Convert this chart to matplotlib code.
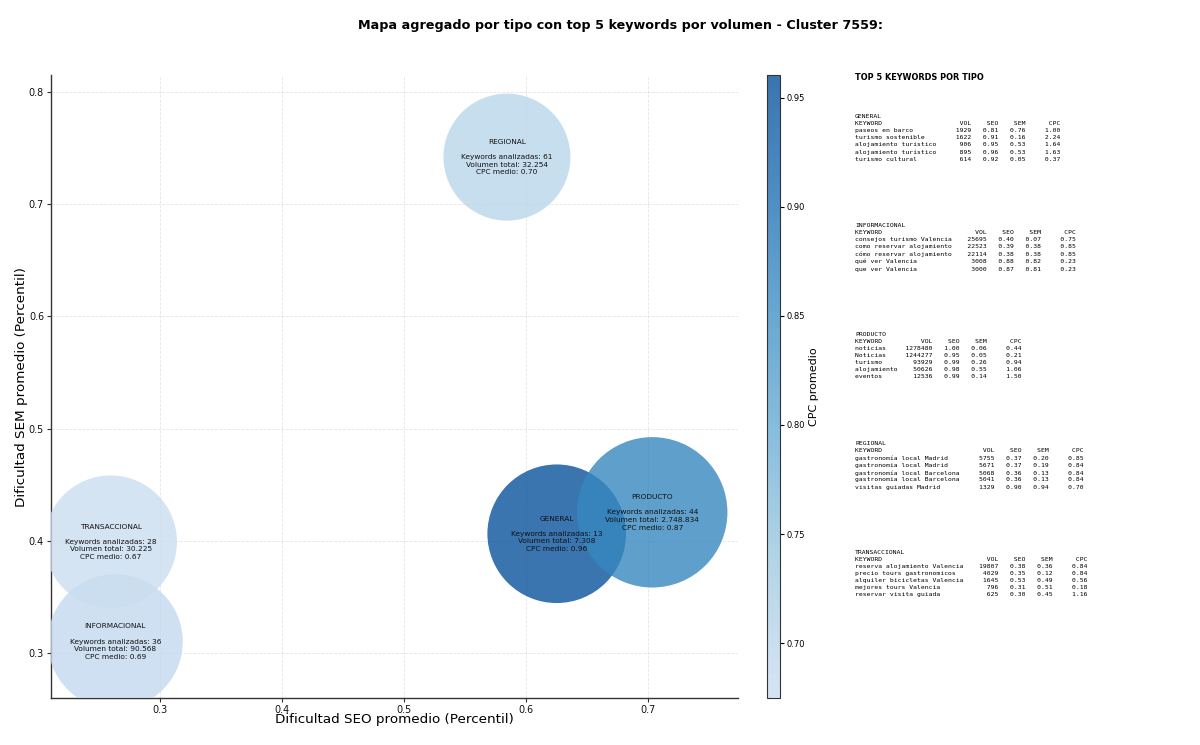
import matplotlib
matplotlib.use("Agg")
import matplotlib.pyplot as plt
from matplotlib.colors import LinearSegmentedColormap, Normalize
import numpy as np

# ---- data ----
tipos = ['GENERAL', 'INFORMACIONAL', 'PRODUCTO', 'REGIONAL', 'TRANSACCIONAL']
seo_mean = [0.6252, 0.2634, 0.7035, 0.5844, 0.2596]
sem_mean = [0.4063, 0.3101, 0.4254, 0.7420, 0.3992]
cpc_mean = [0.9605, 0.69, 0.87, 0.70, 0.6748]
n_keywords = [13, 36, 44, 61, 28]
vol_total = [7308, 90568, 2748834, 32254, 30225]
bubble_area = [9960, 9448, 11725, 8360, 9116]

top_kw = {
    'GENERAL': ['paseos en barco', 'turismo sostenible', 'alojamiento turistico',
                'alojamiento turístico', 'turismo cultural'],
    'INFORMACIONAL': ['consejos turismo Valencia', 'como reservar alojamiento',
                      'cómo reservar alojamiento', 'qué ver Valencia', 'que ver Valencia'],
    'PRODUCTO': ['noticias', 'Noticias', 'turismo', 'alojamiento', 'eventos'],
    'REGIONAL': ['gastronomía local Madrid', 'gastronomia local Madrid',
                 'gastronomía local Barcelona', 'gastronomia local Barcelona',
                 'visitas guiadas Madrid'],
    'TRANSACCIONAL': ['reserva alojamiento Valencia', 'precio tours gastronomicos',
                      'alquiler bicicletas Valencia', 'mejores tours Valencia',
                      'reservar visita guiada'],
}
top_vol = {
    'GENERAL': [1929, 1622, 906, 895, 614],
    'INFORMACIONAL': [25695, 22523, 22114, 3008, 3000],
    'PRODUCTO': [1278480, 1244277, 93929, 50626, 12536],
    'REGIONAL': [5755, 5671, 5068, 5041, 1329],
    'TRANSACCIONAL': [19807, 4029, 1645, 796, 625],
}
top_seo = {
    'GENERAL': [0.81, 0.91, 0.95, 0.96, 0.92],
    'INFORMACIONAL': [0.40, 0.39, 0.38, 0.88, 0.87],
    'PRODUCTO': [1.00, 0.95, 0.99, 0.98, 0.99],
    'REGIONAL': [0.37, 0.37, 0.36, 0.36, 0.90],
    'TRANSACCIONAL': [0.38, 0.35, 0.53, 0.31, 0.30],
}
top_sem = {
    'GENERAL': [0.76, 0.16, 0.53, 0.53, 0.05],
    'INFORMACIONAL': [0.07, 0.38, 0.38, 0.82, 0.81],
    'PRODUCTO': [0.06, 0.05, 0.26, 0.55, 0.14],
    'REGIONAL': [0.20, 0.19, 0.13, 0.13, 0.94],
    'TRANSACCIONAL': [0.36, 0.12, 0.49, 0.51, 0.45],
}
top_cpc = {
    'GENERAL': [1.00, 2.24, 1.64, 1.63, 0.37],
    'INFORMACIONAL': [0.75, 0.85, 0.85, 0.23, 0.23],
    'PRODUCTO': [0.44, 0.21, 0.94, 1.06, 1.50],
    'REGIONAL': [0.85, 0.84, 0.84, 0.84, 0.70],
    'TRANSACCIONAL': [0.84, 0.84, 0.56, 0.18, 1.16],
}

# ---- figure ----
fig = plt.figure(figsize=(12, 7.45), dpi=100)
ax = fig.add_axes([51/1200, 47/745, 687/1200, 623/745])
cax = fig.add_axes([767/1200, 47/745, 13/1200, 623/745])

base = plt.get_cmap('Blues')
cmap = LinearSegmentedColormap.from_list('blues_trunc', base(np.linspace(0.23, 0.87, 256)))
norm = Normalize(vmin=min(cpc_mean), vmax=max(cpc_mean))

sc = ax.scatter(seo_mean, sem_mean, s=bubble_area, c=cpc_mean, cmap=cmap, norm=norm,
                alpha=0.8, linewidths=0, zorder=3)

def fmt_vol(v):
    return f"{v:,}".replace(',', '.')

for t, x, y, n, v, c in zip(tipos, seo_mean, sem_mean, n_keywords, vol_total, cpc_mean):
    ax.text(x, y, f"{t}\n\nKeywords analizadas: {n}\nVolumen total: {fmt_vol(v)}\nCPC medio: {c:.2f}",
            ha='center', va='center', fontsize=5.3, color='#111111', zorder=4, linespacing=1.32)

ax.set_xlim(0.2107, 0.7738)
ax.set_ylim(0.2599, 0.8152)
ax.set_xticks([0.3, 0.4, 0.5, 0.6, 0.7])
ax.set_yticks([0.3, 0.4, 0.5, 0.6, 0.7, 0.8])
ax.grid(True, linestyle='--', color='#cccccc', alpha=0.5, linewidth=0.6, zorder=0)
for s in ['top', 'right']:
    ax.spines[s].set_visible(False)
for s in ['left', 'bottom']:
    ax.spines[s].set_color('#333333')
    ax.spines[s].set_linewidth(1.0)
ax.tick_params(labelsize=6.9, length=3, width=0.8, colors='#333333', labelcolor='#111111', pad=2)
ax.set_xlabel('Dificultad SEO promedio (Percentil)', fontsize=9.7)
ax.set_ylabel('Dificultad SEM promedio (Percentil)', fontsize=9.7)
ax.xaxis.set_label_coords(0.5, -0.024)
ax.yaxis.set_label_coords(-0.0335, 0.5)

cb = fig.colorbar(sc, cax=cax)
cb.set_label('CPC promedio', fontsize=8)
cb.ax.yaxis.set_label_coords(3.2, 0.5)
cb.ax.tick_params(labelsize=6.0, length=3, width=0.8, pad=2)
cb.outline.set_linewidth(0.8)
cb.outline.set_edgecolor('#333333')

fig.text(620/1200, 1 - 25/745,
         'Mapa agregado por tipo con top 5 keywords por volumen - Cluster 7559:',
         fontsize=9.2, fontweight='bold', ha='center', va='center')

# ---- text panel ----
fig.text(855/1200, 1 - 78/745, 'TOP 5 KEYWORDS POR TIPO', fontsize=5.9, fontweight='bold',
         ha='left', va='center')
block_tops = [115, 224, 333, 442, 551]
for t, ytop in zip(tipos, block_tops):
    kws = top_kw[t]
    w = max(len(k) for k in kws)
    lines = [t, f"{'KEYWORD':<{w}}{'VOL':>9}{'SEO':>7}{'SEM':>7}{'CPC':>9}"]
    for k, v, s1, s2, c in zip(kws, top_vol[t], top_seo[t], top_sem[t], top_cpc[t]):
        lines.append(f"{k:<{w}}{v:>9}{s1:>7.2f}{s2:>7.2f}{c:>9.2f}")
    fig.text(855/1200, 1 - (ytop - 1)/745, "\n".join(lines), family='DejaVu Sans Mono',
             fontsize=4.6, ha='left', va='top', linespacing=1.5)

fig.savefig('out.png', dpi=100)
